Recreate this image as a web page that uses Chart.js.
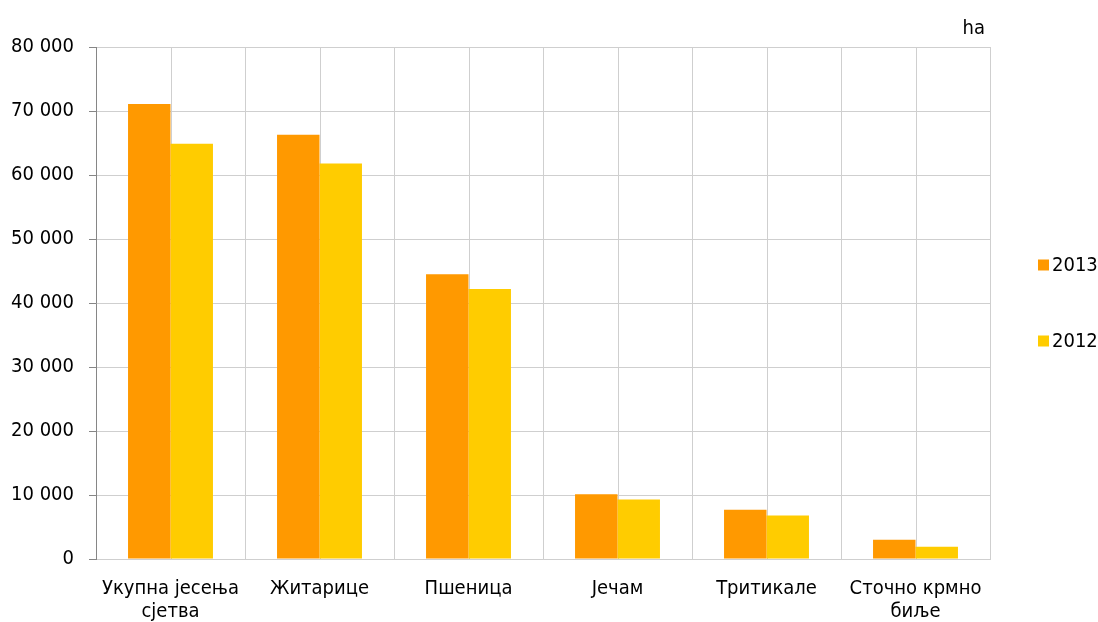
<!DOCTYPE html>
<html>
<head>
<meta charset="utf-8">
<script src="https://cdn.jsdelivr.net/npm/chart.js@4/dist/chart.umd.min.js"></script>
<style>
html,body{margin:0;padding:0;background:#fff;}
#wrap{width:1098px;height:622px;position:relative;}
</style>
</head>
<body>
<div id="wrap"><canvas id="c" width="1098" height="622"></canvas></div>
<script>
const categories = [["Укупна јесења","сјетва"], "Житарице", "Пшеница", "Јечам", "Тритикале", ["Сточно крмно","биље"]];
const series2013 = [71100, 66300, 44500, 10100, 7700, 3000];
const series2012 = [64900, 61800, 42200, 9300, 6800, 1900];
const seriesNames = ["2013", "2012"];
const unitLabel = "ha";
const yTicks = [0, 10000, 20000, 30000, 40000, 50000, 60000, 70000, 80000];

const FONT = "'DejaVu Sans Condensed', 'DejaVu Sans', sans-serif";
const FS = 20;
Chart.defaults.font.family = FONT;
Chart.defaults.font.size = FS;
Chart.defaults.color = '#000';

const GRID = '#cfcfcf';
const AXIS = '#868686';

function fmt(v){ return String(v).replace(/\B(?=(\d{3})+(?!\d))/g, ' '); }

const centerLines = {
  id: 'centerLines',
  beforeDatasetsDraw(chart){
    const {ctx, chartArea, scales:{x}} = chart;
    ctx.save();
    ctx.strokeStyle = GRID;
    ctx.lineWidth = 1;
    for (let i = 0; i < categories.length; i++){
      const px = Math.round(x.getPixelForValue(i)) + 0.5;
      ctx.beginPath();
      ctx.moveTo(px, chartArea.top);
      ctx.lineTo(px, chartArea.bottom);
      ctx.stroke();
    }
    ctx.restore();
  }
};

const extras = {
  id: 'extras',
  afterDraw(chart){
    const {ctx, chartArea} = chart;
    ctx.save();
    ctx.font = FS + 'px ' + FONT;
    ctx.fillStyle = '#000';
    ctx.textBaseline = 'middle';
    ctx.textAlign = 'right';
    ctx.fillText(unitLabel, chartArea.right - 5, chartArea.top - 18);
    // legend
    const mid = (chartArea.top + chartArea.bottom) / 2;
    const gap = 76;
    chart.data.datasets.forEach((ds, i) => {
      const cy = mid - gap / 2 + i * gap;
      const bx = chartArea.right + 48;
      ctx.fillStyle = ds.backgroundColor;
      ctx.fillRect(bx, cy - 5.5, 11, 11);
      ctx.fillStyle = '#000';
      ctx.textAlign = 'left';
      ctx.fillText(ds.label, bx + 14, cy + 1);
    });
    ctx.restore();
  }
};

new Chart(document.getElementById('c'), {
  type: 'bar',
  data: {
    labels: categories,
    datasets: [
      {label: seriesNames[0], data: series2013, backgroundColor: '#FF9900'},
      {label: seriesNames[1], data: series2012, backgroundColor: '#FFCC00'}
    ]
  },
  options: {
    responsive: false,
    animation: false,
    devicePixelRatio: 1,
    layout: {padding: {left: 0, top: 47, right: 108, bottom: 0}},
    datasets: {bar: {categoryPercentage: 0.57, barPercentage: 1.0}},
    plugins: {legend: {display: false}, tooltip: {enabled: false}},
    scales: {
      x: {
        offset: true,
        grid: {offset: true, color: GRID, drawTicks: false},
        border: {display: true, color: GRID},
        ticks: {padding: 18, maxRotation: 0, autoSkip: false, font: {size: FS, lineHeight: 1.15}},
        afterFit(s){ s.height = 63; }
      },
      y: {
        min: 0, max: 80000,
        afterBuildTicks(s){ s.ticks = yTicks.map(v => ({value: v})); },
        grid: {color: GRID, tickColor: AXIS, tickLength: 7},
        border: {display: true, color: AXIS},
        ticks: {padding: 15, callback: v => fmt(v)},
        afterFit(s){ s.width = 96; }
      }
    }
  },
  plugins: [centerLines, extras]
});
</script>
</body>
</html>
